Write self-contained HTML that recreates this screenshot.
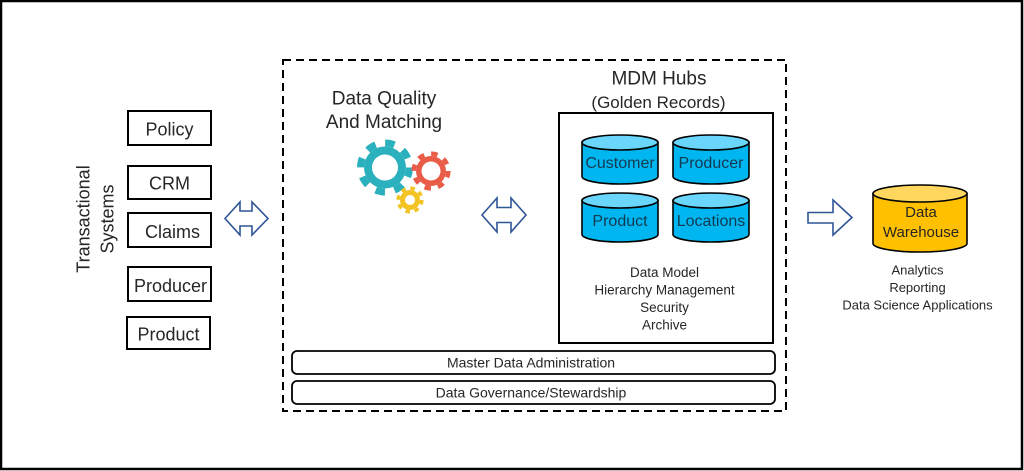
<!DOCTYPE html>
<html>
<head>
<meta charset="utf-8">
<style>
  html, body { margin: 0; padding: 0; background: #fff; }
  body { width: 1024px; height: 471px; overflow: hidden; }
  svg { display: block; }
  text { font-family: "Liberation Sans", sans-serif; fill: #262626; }
</style>
</head>
<body>
<svg width="1024" height="471" viewBox="0 0 1024 471" xmlns="http://www.w3.org/2000/svg">
  <!-- outer frame -->
  <rect x="1" y="1" width="1021" height="468" fill="#fff" stroke="#000" stroke-width="2.5"/>

  <!-- Transactional Systems vertical label -->
  <text transform="translate(83,219) rotate(-90)" text-anchor="middle" dy="0.35em" font-size="18">Transactional</text>
  <text transform="translate(107,219) rotate(-90)" text-anchor="middle" dy="0.35em" font-size="18">Systems</text>

  <!-- Transactional boxes -->
  <g fill="#fff" stroke="#000" stroke-width="2">
    <rect x="128" y="111" width="83" height="34"/>
    <rect x="128" y="166" width="83" height="33"/>
    <rect x="128" y="213" width="83" height="34"/>
    <rect x="128" y="267" width="83" height="34"/>
    <rect x="127" y="317" width="83" height="32"/>
  </g>
  <g font-size="18" text-anchor="middle">
    <text x="169.5" y="135.5">Policy</text>
    <text x="169.5" y="189.5">CRM</text>
    <text x="172.5" y="238">Claims</text>
    <text x="170.5" y="292">Producer</text>
    <text x="168.5" y="340.5">Product</text>
  </g>

  <!-- arrows -->
  <g fill="#fff" stroke="#2f5597" stroke-width="1.6" stroke-linejoin="miter">
    <polygon points="225,218.5 240,202 240,211 252,211 252,202 268,218.5 252,235 252,226 240,226 240,235"/>
    <polygon points="482,215 497,198 497,207.5 511,207.5 511,198 526,215 511,232 511,222.5 497,222.5 497,232"/>
    <polygon points="808,212.5 833,212.5 833,200 852,217.5 833,235 833,223 808,223"/>
  </g>

  <!-- dashed container -->
  <rect x="283" y="60" width="503" height="351" fill="none" stroke="#000" stroke-width="2" stroke-dasharray="8 5"/>

  <!-- Data Quality -->
  <g font-size="19" text-anchor="middle">
    <text x="384" y="104.5">Data Quality</text>
    <text x="384" y="128">And Matching</text>
  </g>

  <!-- gears -->
  <g>
    <circle cx="385" cy="167.5" r="21" fill="#2bb0bd"/>
    <circle cx="385" cy="167.5" r="24.5" fill="none" stroke="#2bb0bd" stroke-width="7" stroke-dasharray="9.5 9.74"/>
    <circle cx="385" cy="167.5" r="13" fill="#fff"/>

    <circle cx="431" cy="171" r="15" fill="#e95c47"/>
    <circle cx="431" cy="171" r="17.3" fill="none" stroke="#e95c47" stroke-width="4.6" stroke-dasharray="6.5 7.09"/>
    <circle cx="431" cy="171" r="9.5" fill="#fff"/>

    <circle cx="410" cy="200" r="10" fill="#f2c323"/>
    <circle cx="410" cy="200" r="11.8" fill="none" stroke="#f2c323" stroke-width="3.6" stroke-dasharray="4.5 4.77"/>
    <circle cx="410" cy="200" r="5" fill="#fff"/>
  </g>

  <!-- MDM Hubs -->
  <text x="659" y="84.5" font-size="19" text-anchor="middle">MDM Hubs</text>
  <text x="658.5" y="108" font-size="17" text-anchor="middle">(Golden Records)</text>
  <rect x="559" y="113" width="214" height="230" fill="#fff" stroke="#000" stroke-width="2"/>

  <!-- blue cylinders -->
  <g stroke="#000" stroke-width="1.6">
    <path d="M582,142.5 V176.5 A38,7.5 0 0 0 658,176.5 V142.5 Z" fill="#00b6f0"/>
    <ellipse cx="620" cy="142.5" rx="38" ry="7.5" fill="#6ad6fb"/>
    <path d="M673,142.5 V176.5 A38,7.5 0 0 0 749,176.5 V142.5 Z" fill="#00b6f0"/>
    <ellipse cx="711" cy="142.5" rx="38" ry="7.5" fill="#6ad6fb"/>
    <path d="M582,200.5 V234.5 A38,7.5 0 0 0 658,234.5 V200.5 Z" fill="#00b6f0"/>
    <ellipse cx="620" cy="200.5" rx="38" ry="7.5" fill="#6ad6fb"/>
    <path d="M673,200.5 V234.5 A38,7.5 0 0 0 749,234.5 V200.5 Z" fill="#00b6f0"/>
    <ellipse cx="711" cy="200.5" rx="38" ry="7.5" fill="#6ad6fb"/>
  </g>
  <g font-size="16" text-anchor="middle">
    <text x="620" y="168" style="fill:#123a50">Customer</text>
    <text x="711" y="168" style="fill:#123a50">Producer</text>
    <text x="620" y="226" style="fill:#123a50">Product</text>
    <text x="711" y="226" style="fill:#123a50">Locations</text>
  </g>
  <g font-size="13.5" text-anchor="middle">
    <text x="664.5" y="277">Data Model</text>
    <text x="664.5" y="294.5">Hierarchy Management</text>
    <text x="664.5" y="312">Security</text>
    <text x="664.5" y="329.5">Archive</text>
  </g>

  <!-- bottom rounded bars -->
  <rect x="292" y="351" width="483" height="23" rx="5" ry="5" fill="#fff" stroke="#000" stroke-width="1.8"/>
  <rect x="292" y="381" width="483" height="23" rx="5" ry="5" fill="#fff" stroke="#000" stroke-width="1.8"/>
  <text x="531" y="367.5" font-size="14" text-anchor="middle">Master Data Administration</text>
  <text x="531" y="397.5" font-size="14" text-anchor="middle">Data Governance/Stewardship</text>

  <!-- Data warehouse -->
  <g stroke="#000" stroke-width="1.6">
    <path d="M873,193.5 V243.5 A47,8.5 0 0 0 967,243.5 V193.5 Z" fill="#ffc000"/>
    <ellipse cx="920" cy="193.5" rx="47" ry="8.5" fill="#ffd75e"/>
  </g>
  <g font-size="15" text-anchor="middle">
    <text x="921" y="217">Data</text>
    <text x="921" y="237">Warehouse</text>
  </g>
  <g font-size="13" text-anchor="middle">
    <text x="917.5" y="274.5">Analytics</text>
    <text x="917.5" y="292">Reporting</text>
    <text x="917.5" y="309.5">Data Science Applications</text>
  </g>
</svg>
</body>
</html>
